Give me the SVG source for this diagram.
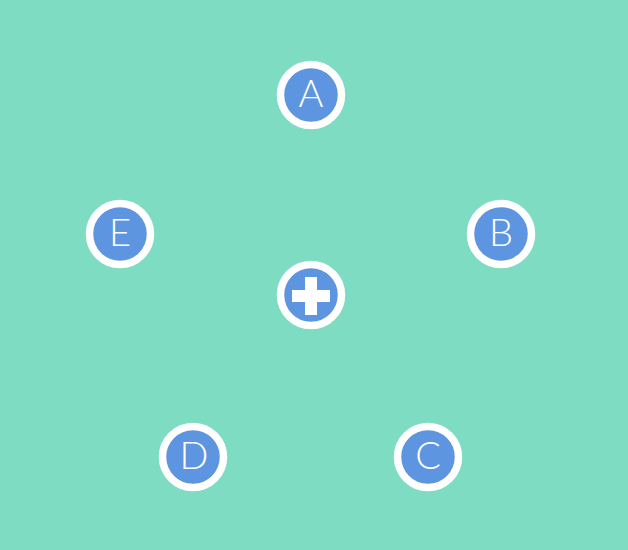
<svg xmlns="http://www.w3.org/2000/svg" width="628" height="550" viewBox="0 0 628 550">
<style>
.n{fill:#5e95e0;stroke:#ffffff;stroke-width:7.5}
.t{font-family:Lato,"Liberation Sans",sans-serif;font-weight:300;font-size:38px;fill:#ffffff;text-anchor:middle}
</style>
<rect width="628" height="550" fill="#7ddcc1"/>
<g id="connectors"></g>
<g id="A"><circle class="n" cx="311" cy="95" r="30.5"/><text class="t" x="311" y="106.5">A</text></g>
<g id="B"><circle class="n" cx="501" cy="234" r="30.5"/><text class="t" x="501" y="246">B</text></g>
<g id="C"><circle class="n" cx="428" cy="457" r="30.5"/><text class="t" x="428" y="469">C</text></g>
<g id="D"><circle class="n" cx="193" cy="457" r="30.5"/><text class="t" x="194" y="469">D</text></g>
<g id="E"><circle class="n" cx="120" cy="234" r="30.5"/><text class="t" x="120" y="246">E</text></g>
<g id="plus"><circle class="n" cx="311" cy="295" r="30.5"/><path d="M305 277h12v13h13v12h-13v13h-12v-13h-13v-12h13z" fill="#ffffff"/></g>
</svg>
